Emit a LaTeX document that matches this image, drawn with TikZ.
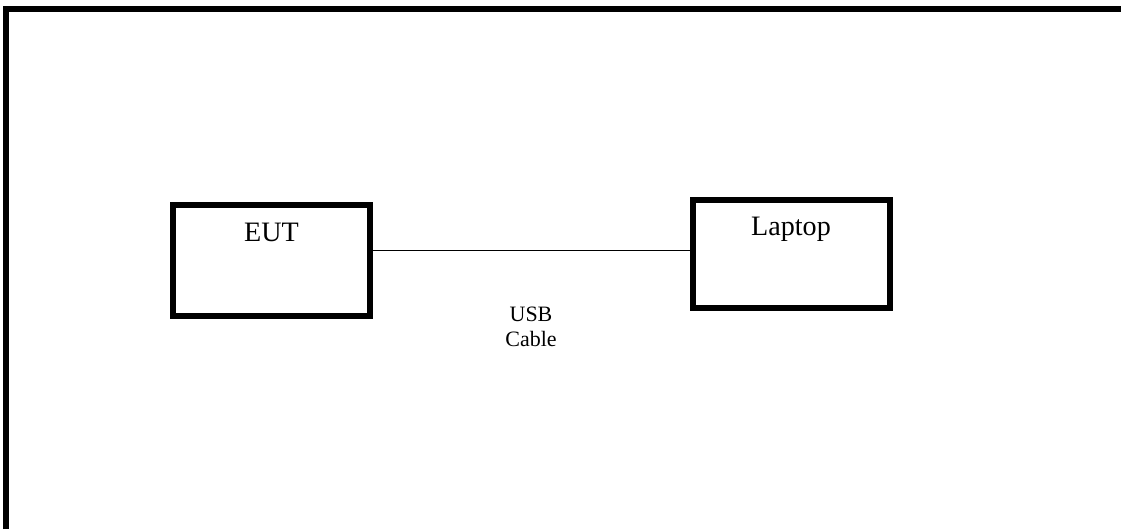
\documentclass[tikz,border=0pt]{standalone}
\usepackage{fontspec}
\setmainfont{Liberation Serif}
\tikzset{
  unitbox/.style={draw, line width=0.12cm, minimum width=3.94cm, minimum height=2.2cm, inner sep=0pt},
  boxtext/.style={font=\fontsize{16}{19}\selectfont, inner sep=0pt, anchor=north},
}
\begin{document}
\begin{tikzpicture}[x=0.02cm, y=-0.02cm]
\useasboundingbox (0,0) rectangle (1121,529);
\draw[line width=0.12cm] (6,529) -- (6,8.5) -- (1121,8.5);
\node[unitbox, minimum height=2.22cm] (eut) at (271.5,260) {};
\node[boxtext] (euttext) at (271.5,223) {EUT};
\node[unitbox, minimum width=3.95cm, minimum height=2.17cm] (laptop) at (791.75,253.75) {};
\node[boxtext] (laptoptext) at (791,217) {Laptop};
\coordinate (cablemid) at (531,250.5);
\draw[line width=0.02cm] (eut.east |- cablemid) -- (laptop.west |- cablemid);
\node[font=\fontsize{12.5}{14.2}\selectfont, align=center, inner sep=0pt, anchor=north] (cablelabel) at (531,307) {USB\\Cable};
\end{tikzpicture}
\end{document}
